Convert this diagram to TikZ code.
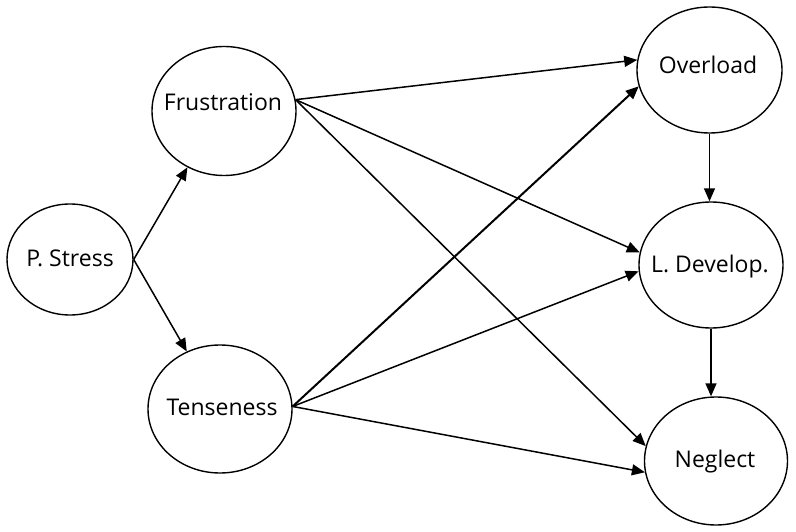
\documentclass[tikz,border=0pt]{standalone}
\usepackage{fontspec}
\setmainfont{Open Sans}
\usetikzlibrary{shapes.geometric,arrows.meta}
\begin{document}
\begin{tikzpicture}[x=1pt,y=-1pt,
  var/.style={draw, ellipse, line width=1.4pt, inner sep=0pt},
  lab/.style={font=\fontsize{23}{26}\selectfont, inner sep=0pt},
  arr/.style={line width=1.5pt, -{Triangle[length=13pt,width=11pt]}},
  thick arr/.style={arr, line width=2pt}]
\useasboundingbox (0,0) rectangle (796,532);
\node[var, minimum width=126pt, minimum height=111pt] (ps) at (70,259.5) {};
\node[var, minimum width=144pt, minimum height=129pt] (fr) at (224,111) {};
\node[var, minimum width=144pt, minimum height=128pt] (te) at (220,409) {};
\node[var, minimum width=145pt, minimum height=126pt] (ov) at (709.5,70) {};
\node[var, minimum width=144pt, minimum height=126pt] (ld) at (711,265) {};
\node[var, minimum width=143pt, minimum height=128pt] (ne) at (716,461) {};
\node[lab] (pst) at (70,258) {P. Stress};
\node[lab] (frt) at (223,102) {Frustration};
\node[lab] (tet) at (222,407) {Tenseness};
\node[lab] (ovt) at (708,65) {Overload};
\node[lab] (ldt) at (710,267) {L. Develop.};
\node[lab] (net) at (715,462) {Neglect};
\draw[arr] (ps.0) -- (fr.237);
\draw[arr] (ps.0) -- (te.120);
\draw[arr] (fr.9) -- (ov.172);
\draw[arr] (fr.9) -- (ld.170);
\draw[arr] (fr.9) -- (ne.168);
\draw[thick arr] (te.2) -- (ov.193);
\draw[arr] (te.2) -- (ld.185);
\draw[arr] (te.2) -- (ne.189);
\draw[arr] (ov.south) -- (ov.south |- ld.north);
\draw[arr] (ld.south) -- (ld.south |- ne.north);
\end{tikzpicture}
\end{document}
